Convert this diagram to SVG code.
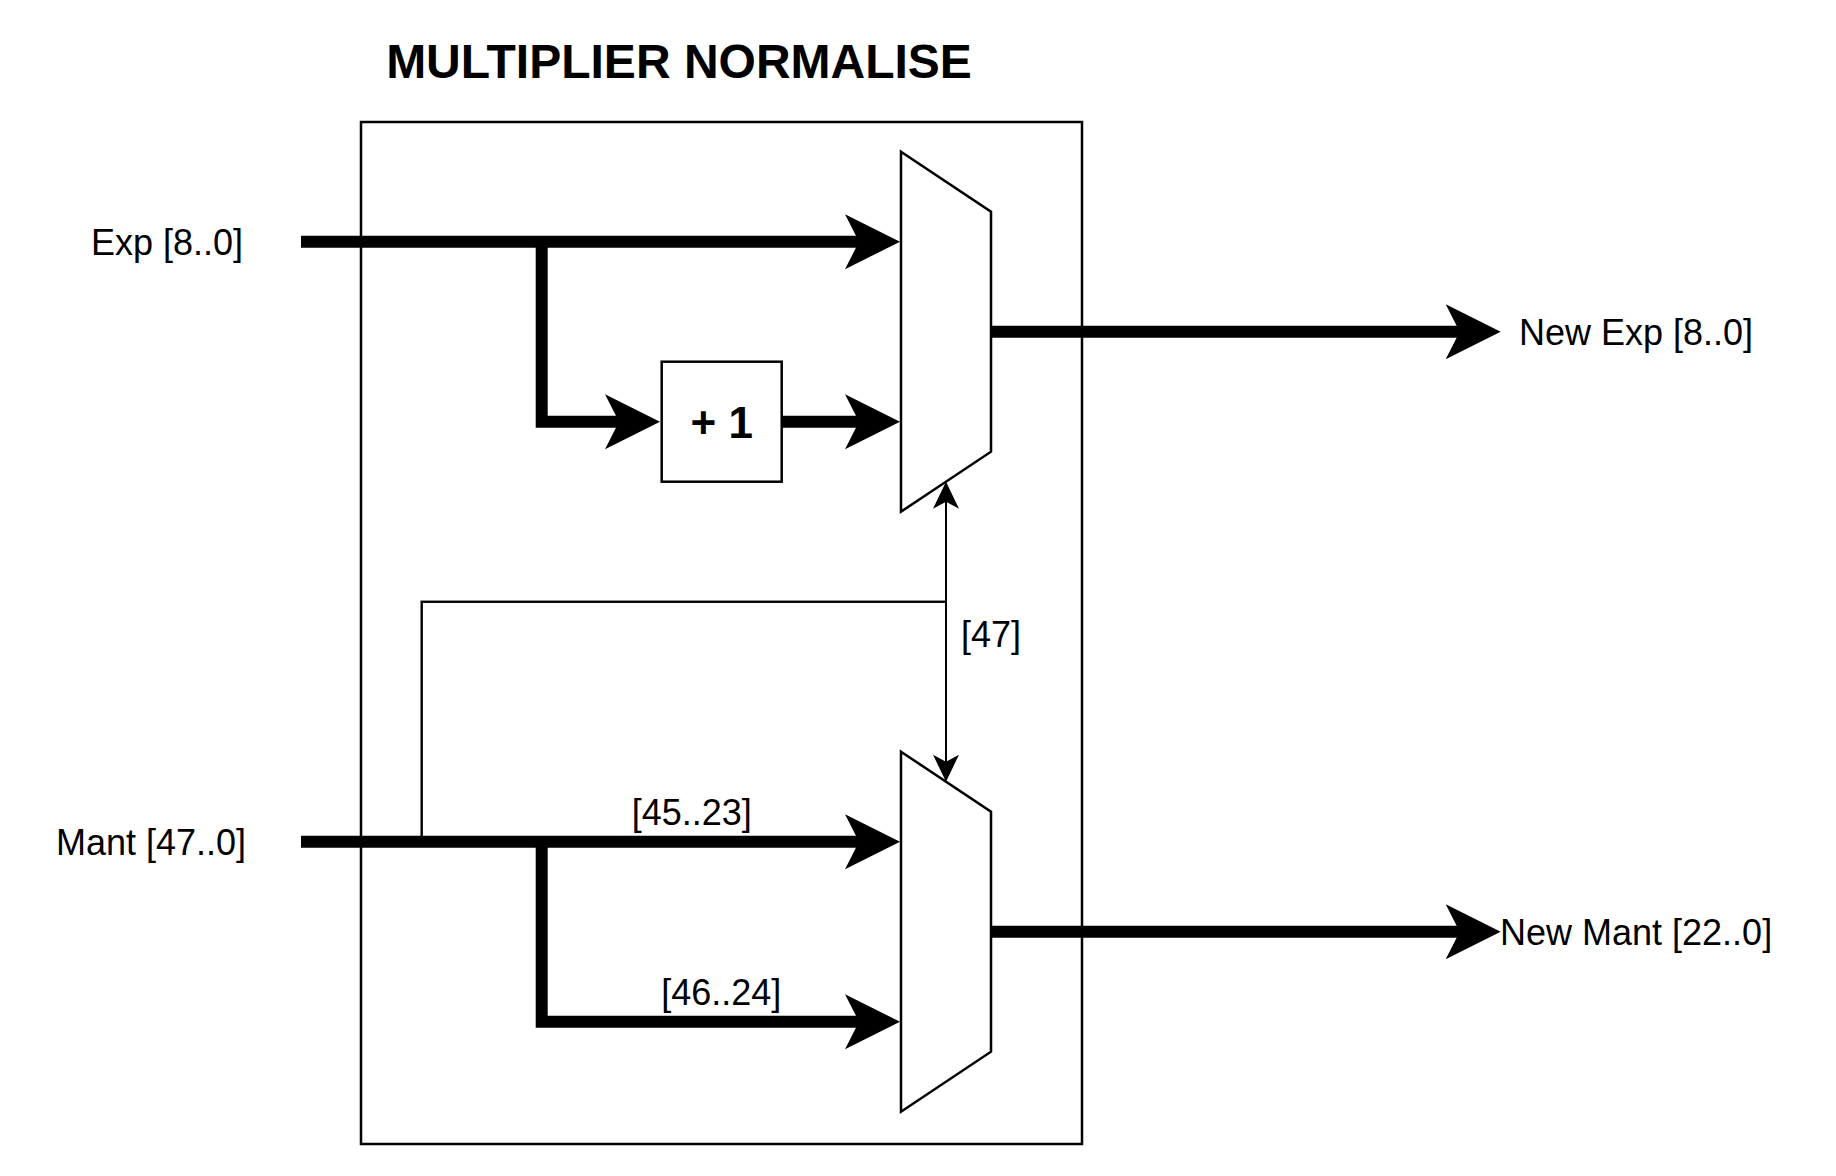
<svg xmlns="http://www.w3.org/2000/svg" width="1836" height="1176" viewBox="0 0 1836 1176">
<style>
.thin{fill:none;stroke:#000;stroke-width:2}
.blk{fill:#fff;stroke:#000;stroke-width:2.5}
.bus{fill:none;stroke:#000;stroke-width:12;stroke-linejoin:miter;stroke-linecap:butt}
.sig{fill:none;stroke:#000;stroke-width:2;stroke-linejoin:miter}
text{font-family:"Liberation Sans",Arial,sans-serif;fill:#000}
.lbl{font-size:36px}
.ttl{font-size:48px;font-weight:bold}
.op{font-size:44px;font-weight:bold}
</style>
<defs>
<marker id="bigArrow" viewBox="-18 -28 57 56" markerWidth="57" markerHeight="56" refX="0" refY="0" orient="auto" markerUnits="userSpaceOnUse" overflow="visible">
<path d="M38,0 L-17,-27.5 L-3,0 L-17,27.5 Z" fill="#000"/>
</marker>
<marker id="smallArrow" viewBox="-10 -14 29 28" markerWidth="29" markerHeight="28" refX="0" refY="0" orient="auto" markerUnits="userSpaceOnUse" overflow="visible">
<path d="M18,0 L-9,-13 L-2,0 L-9,13 Z" fill="#000"/>
</marker>
</defs>
<rect width="1836" height="1176" fill="#fff"/>
<text id="title" class="ttl" x="679" y="78" text-anchor="middle">MULTIPLIER NORMALISE</text>
<g id="container">
<rect x="361" y="122" width="721" height="1022" class="blk"/>
</g>
<g id="mux-exp">
<polygon points="901,151.7 991,211.7 991,451.7 901,511.7" class="blk"/>
</g>
<g id="mux-mant">
<polygon points="901,751.7 991,811.7 991,1051.7 901,1111.7" class="blk"/>
</g>
<g id="plus-one">
<rect x="661.7" y="361.7" width="120" height="120" class="blk"/>
<text class="op" x="721.7" y="438" text-anchor="middle">+ 1</text>
</g>
<g id="in-exp"><text class="lbl" x="243" y="255" text-anchor="end">Exp [8..0]</text></g>
<g id="in-mant"><text class="lbl" x="246" y="855" text-anchor="end">Mant [47..0]</text></g>
<g id="out-exp"><text class="lbl" x="1519" y="345">New Exp [8..0]</text></g>
<g id="out-mant"><text class="lbl" x="1500" y="945">New Mant [22..0]</text></g>
<g id="connectors">
<path class="bus" d="M301,241.7 H862" marker-end="url(#bigArrow)"/>
<path class="bus" d="M541.7,241.7 V421.7 H622" marker-end="url(#bigArrow)"/>
<path class="bus" d="M781.7,421.7 H862" marker-end="url(#bigArrow)"/>
<path class="bus" d="M991,331.7 H1462.7" marker-end="url(#bigArrow)"/>
<path class="bus" d="M301,841.7 H862" marker-end="url(#bigArrow)"/>
<path class="bus" d="M541.7,841.7 V1021.7 H862" marker-end="url(#bigArrow)"/>
<path class="bus" d="M991,931.7 H1462.7" marker-end="url(#bigArrow)"/>
<path class="sig" d="M421.7,841.7 V601.7 H946 V499.7" marker-end="url(#smallArrow)"/>
<path class="sig" d="M421.7,841.7 V601.7 H946 V763.7" marker-end="url(#smallArrow)"/>
<text class="lbl" x="691.7" y="825" text-anchor="middle">[45..23]</text>
<text class="lbl" x="721.3" y="1005" text-anchor="middle">[46..24]</text>
<text class="lbl" x="961" y="647">[47]</text>
</g>
</svg>
